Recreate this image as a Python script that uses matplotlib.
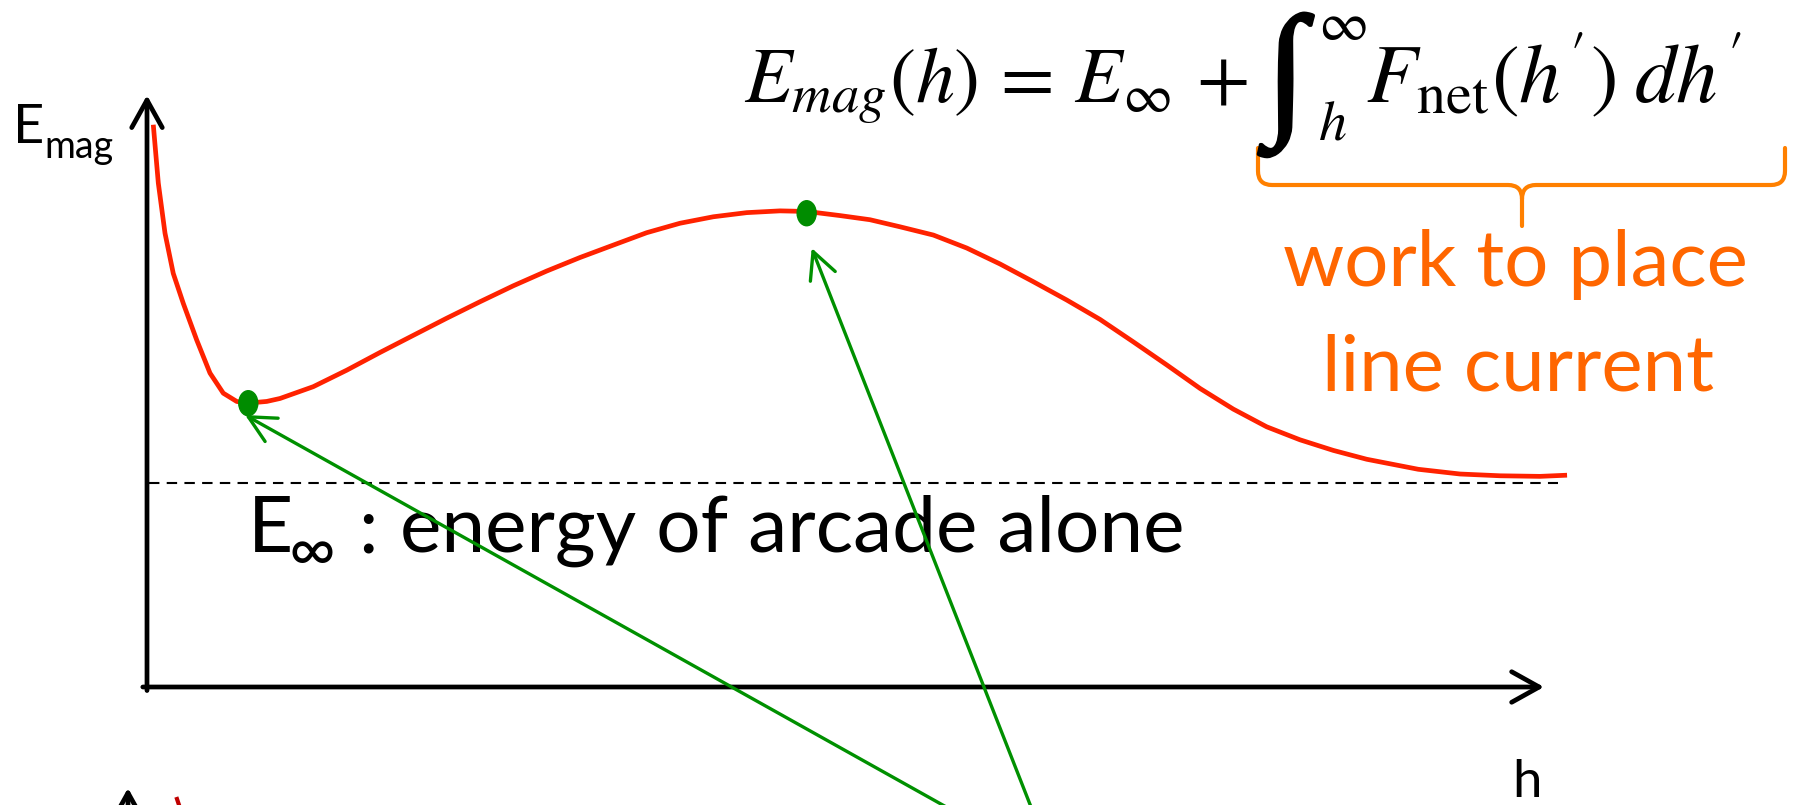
import matplotlib
matplotlib.use('Agg')
import matplotlib.pyplot as plt
import matplotlib.patheffects as pe
from matplotlib.patches import Ellipse, PathPatch
from matplotlib.path import Path

plt.rcParams['mathtext.fontset'] = 'stix'
SANS = ['Lato', 'DejaVu Sans']

# ---- data (h in arbitrary units 0..10, E_mag in arbitrary units 0..10) ----
h_vals = [0.045, 0.081, 0.129, 0.188, 0.260, 0.356, 0.451, 0.546, 0.642, 0.714,
          0.857, 0.952, 1.190, 1.430, 1.668, 1.906, 2.145, 2.384, 2.622, 2.861,
          3.100, 3.338, 3.577, 3.815, 4.054, 4.293, 4.531, 4.724, 4.961, 5.175,
          5.390, 5.629, 5.868, 6.106, 6.344, 6.583, 6.822, 7.060, 7.299, 7.538,
          7.776, 8.015, 8.253, 8.492, 8.731, 9.100, 9.399, 9.685, 9.971, 10.165]
e_vals = [9.53, 8.54, 7.69, 7.01, 6.50, 5.88, 5.32, 4.98, 4.84, 4.81,
          4.84, 4.89, 5.09, 5.37, 5.67, 5.96, 6.25, 6.53, 6.80, 7.05,
          7.28, 7.49, 7.70, 7.86, 7.97, 8.04, 8.07, 8.06, 7.99, 7.92,
          7.80, 7.66, 7.44, 7.17, 6.87, 6.56, 6.23, 5.85, 5.46, 5.06,
          4.71, 4.41, 4.19, 4.01, 3.86, 3.69, 3.61, 3.58, 3.57, 3.59]
e_inf = 3.45
dash_range = [0.014, 10.1]
equilibria_h = [0.725, 4.722]
equilibria_e = [4.81, 8.03]
arrow_heads = [(0.702, 4.61), (4.758, 7.44)]
arrow_tails = [(6.013, -2.42), (6.392, -2.42)]

formula_left = r"$E_{mag}(h)\, = \,E_{\infty}\, +$"
formula_right = r"$F_{\mathrm{net}}(h^{\prime})\;dh^{\prime}$"
label_energy = "energy of arcade alone"
label_work = ["work to place", "line current"]

RED = '#FF2200'
GREEN = '#008C00'
ORANGE = '#FF6600'
BRACE = '#FF8000'

W, H = 1796, 805
fig = plt.figure(figsize=(W / 100, H / 100), dpi=100)
ov = fig.add_axes([0, 0, 1, 1])
ov.set_xlim(0, W)
ov.set_ylim(H, 0)
ov.axis('off')

ax = fig.add_axes([147 / W, (H - 687) / H, (1544 - 147) / W, (687 - 97) / H])
ax.set_xlim(0, 10)
ax.set_ylim(0, 10)
ax.axis('off')
ax.patch.set_alpha(0)

# axes arrows
axis_arrow = dict(arrowstyle='->,head_length=0.9,head_width=0.5', lw=3.4,
                  color='black', shrinkA=0, shrinkB=0, mutation_scale=22,
                  clip_on=False)
ax.annotate('', xy=(0, 10.03), xytext=(0, -0.06), arrowprops=axis_arrow,
            annotation_clip=False)
ax.annotate('', xy=(10, 0), xytext=(-0.03, 0), arrowprops=axis_arrow,
            annotation_clip=False)

# E_infinity dashed line
ax.plot(dash_range, [e_inf, e_inf], color='black', lw=1.5, dashes=(5, 3.5),
        clip_on=False, zorder=2)

# energy curve
ax.plot(h_vals, e_vals, color=RED, lw=3.4, clip_on=False, zorder=3,
        solid_joinstyle='round', solid_capstyle='butt')

# equilibrium dots
for hx, ey in zip(equilibria_h, equilibria_e):
    ax.add_patch(Ellipse((hx, ey), 19 / 139.7, 25 / 59.0, color=GREEN,
                         zorder=5, clip_on=False))

# green arrows
for head, tail in zip(arrow_heads, arrow_tails):
    ax.annotate('', xy=head, xytext=tail,
                arrowprops=dict(arrowstyle='->,head_length=0.8,head_width=0.4',
                                lw=2.4, color='#009000', shrinkA=0, shrinkB=0,
                                mutation_scale=24, clip_on=False),
                annotation_clip=False)

renderer = fig.canvas.get_renderer()


def fit_width(t, target):
    bb = t.get_window_extent(renderer)
    t.set_fontsize(t.get_fontsize() * target / bb.width)


def fit_height(t, target):
    bb = t.get_window_extent(renderer)
    t.set_fontsize(t.get_fontsize() * target / bb.height)


# y label E_mag
ov.text(13, 143, 'E', fontsize=39, family=SANS, ha='left', va='baseline')
ov.text(44, 158, 'mag', fontsize=27, family=SANS, ha='left', va='baseline')

# x label h
ov.text(1512, 797, 'h', fontsize=38, family=SANS, ha='left', va='baseline')

# E_inf label
t = ov.text(400, 552, label_energy, fontsize=52, family=SANS, ha='left',
            va='baseline')
fit_width(t, 785)
fs_main = t.get_fontsize()
ov.text(248, 552, 'E', fontsize=fs_main, family=SANS, ha='left', va='baseline')
t = ov.text(288, 571, '\u221e', fontsize=36, family=SANS, ha='left', va='baseline')
fit_width(t, 47)
ov.text(358, 552, ':', fontsize=fs_main, family=SANS, ha='left', va='baseline')

# formula
t = ov.text(744, 103, formula_left, fontsize=60, ha='left', va='baseline')
fit_width(t, 504)
fs_f = t.get_fontsize()
ti = ov.text(1286, 85, '\u222b', fontsize=80,
             family=['Liberation Serif', 'DejaVu Serif'],
             ha='center', va='center',
             path_effects=[pe.withStroke(linewidth=2.2, foreground='black')])
fit_height(ti, 143)
ov.text(1318, 40, r"$\infty$", fontsize=fs_f * 0.7, ha='left', va='baseline')
ov.text(1318, 140, r"$h$", fontsize=fs_f * 0.72, ha='left', va='baseline')
t = ov.text(1366, 103, formula_right, fontsize=fs_f, ha='left', va='baseline')
fit_width(t, 376)

# orange brace
L, R, C, top, flat, tip, r = 1258, 1785, 1522, 148, 185, 226, 14
verts = [(L, top), (L, flat - r), (L, flat), (L + r, flat), (C - r, flat),
         (C, flat), (C, flat + r), (C, tip),
         (R, top), (R, flat - r), (R, flat), (R - r, flat), (C + r, flat),
         (C, flat), (C, flat + r)]
codes = [Path.MOVETO, Path.LINETO, Path.CURVE3, Path.CURVE3, Path.LINETO,
         Path.CURVE3, Path.CURVE3, Path.LINETO,
         Path.MOVETO, Path.LINETO, Path.CURVE3, Path.CURVE3, Path.LINETO,
         Path.CURVE3, Path.CURVE3]
ov.add_patch(PathPatch(Path(verts, codes), fill=False, edgecolor=BRACE, lw=3.0,
                       capstyle='round', joinstyle='round'))

# orange text
t1 = ov.text(1515, 286, label_work[0], fontsize=54, family=SANS, color=ORANGE,
             ha='center', va='baseline')
fit_width(t1, 465)
ov.text(1518, 390, label_work[1], fontsize=t1.get_fontsize(), family=SANS,
        color=ORANGE, ha='center', va='baseline')

# fragments of the next figure at bottom-left edge
ov.annotate('', xy=(128, 788), xytext=(128, 860),
            arrowprops=dict(arrowstyle='->,head_length=0.9,head_width=0.5',
                            lw=3.4, color='black', shrinkA=0, shrinkB=0,
                            mutation_scale=22, clip_on=False),
            annotation_clip=False)
ov.plot([177, 180], [799, 808], color='#C00000', lw=3)

fig.savefig('out.png', dpi=100)
